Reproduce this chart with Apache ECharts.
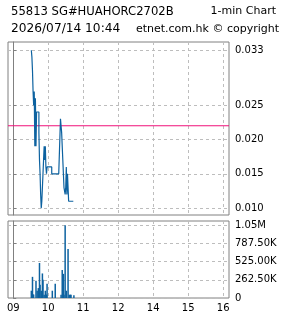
<!DOCTYPE html>
<html>
<head>
<meta charset="utf-8">
<script src="https://cdn.jsdelivr.net/npm/echarts@6/dist/echarts.min.js"></script>
<style>
  html, body { margin: 0; padding: 0; background: #fff; }
  #chart { width: 285px; height: 318px; }
</style>
</head>
<body>
<div id="chart"></div>
<script>
// x values are trading minutes counted from 09:00 (lunch hour removed)
const hourTicks = [0, 60, 120, 180, 240, 300, 360]
const hourLabels = ['09', '10', '11', '12', '14', '15', '16']
const xMin = -9
const xMax = 370

const priceTicks = [0.010, 0.015, 0.020, 0.025, 0.033]
const volTicks = [0, 262500, 525000, 787500, 1050000]
const prevClose = 0.022

// one price per minute, first one at 09:31
const priceStart = 31
const prices = [
  0.033, 0.032, 0.030, 0.027, 0.025, 0.027, 0.019, 0.026, 0.019, 0.024,
  0.024, 0.024, 0.024, 0.021, 0.017, 0.015, 0.012, 0.010, 0.011, 0.013,
  0.013, 0.017, 0.019, 0.017, 0.019, 0.016, 0.015, 0.016, 0.016, 0.016,
  0.016, 0.016, 0.016, 0.016, 0.016, 0.015, 0.015, 0.015, 0.015, 0.015,
  0.015, 0.015, 0.015, 0.015, 0.015, 0.015, 0.015, 0.015, 0.015, 0.015,
  0.023, 0.022, 0.021, 0.021, 0.017, 0.015, 0.013, 0.013, 0.012, 0.013,
  0.016, 0.012, 0.015, 0.015, 0.011, 0.011, 0.011, 0.011, 0.011, 0.011,
  0.011, 0.011, 0.011, 0.011
]

// volume bars: minute and shares
const volMinutes = [31, 33, 34, 35, 39, 41, 43, 45, 46, 48, 50, 51, 53, 55, 57, 58,
  67, 72, 82, 84, 86, 87, 89, 91, 94, 96, 98, 99, 104]
const volValues = [105000, 305000, 50000, 50000, 250000, 105000, 143000, 505000, 190000,
  105000, 354000, 263000, 48000, 105000, 50000, 205000, 105000, 205000, 48000, 405000,
  348000, 48000, 1050000, 105000, 705000, 48000, 48000, 48000, 40000]

const lineColor = '#0d62a0'
const gridColor = '#bdbdbd'
const frameColor = '#808080'
const pinkColor = '#f0107a'
const font = 'DejaVu Sans'

const chart = echarts.init(document.getElementById('chart'))

const priceData = prices.map((p, i) => [priceStart + i, p])
const volData = volMinutes.map((m, i) => [m, volValues[i]])

function volLabel (v) {
  if (v === 0) return '0'
  if (v >= 1e6) return (v / 1e6).toFixed(2) + 'M'
  return (v / 1e3).toFixed(2) + 'K'
}

function titleStyle (size) {
  return { fontSize: size, fontWeight: 'normal', color: '#000', fontFamily: font }
}

const xCommon = {
  type: 'value',
  min: xMin,
  max: xMax,
  axisLine: { show: false },
  axisTick: { show: false, customValues: hourTicks },
  splitLine: { show: true, lineStyle: { color: gridColor, type: [3, 3], width: 1 } }
}

chart.setOption({
  animation: false,
  title: [
    { text: '55813 SG#HUAHORC2702B', left: 11, top: 6, padding: 0, textStyle: titleStyle(11.6) },
    { text: '1-min Chart', right: 9, top: 6, padding: 0, textStyle: titleStyle(11) },
    { text: '2026/07/14 10:44', left: 11, top: 23, padding: 0, textStyle: titleStyle(12.2) },
    { text: 'etnet.com.hk © copyright', right: 6, top: 24, padding: 0, textStyle: titleStyle(11) }
  ],
  grid: [
    { left: 8, top: 42, width: 221, height: 173, show: true, borderColor: frameColor, borderWidth: 1 },
    { left: 8, top: 221, width: 221, height: 77, show: true, borderColor: frameColor, borderWidth: 1 }
  ],
  xAxis: [
    Object.assign({ gridIndex: 0, axisLabel: { show: false, customValues: hourTicks } }, xCommon),
    Object.assign({
      gridIndex: 1,
      axisLabel: {
        show: true,
        customValues: hourTicks,
        margin: 5,
        fontSize: 10,
        fontFamily: font,
        color: '#000',
        formatter: v => hourLabels[hourTicks.indexOf(v)]
      }
    }, xCommon)
  ],
  yAxis: [
    {
      type: 'value',
      gridIndex: 0,
      position: 'right',
      min: 0.009,
      max: 0.0342,
      axisLine: { show: true, lineStyle: { color: frameColor } },
      axisTick: { show: true, length: 3, customValues: priceTicks, lineStyle: { color: frameColor } },
      axisLabel: {
        customValues: priceTicks,
        margin: 6,
        fontSize: 10,
        fontFamily: font,
        color: '#000',
        formatter: v => v.toFixed(3)
      },
      splitLine: { show: true, lineStyle: { color: gridColor, type: [3, 3] } }
    },
    {
      type: 'value',
      gridIndex: 1,
      position: 'right',
      min: 0,
      max: 1110000,
      axisLine: { show: true, lineStyle: { color: frameColor } },
      axisTick: { show: true, length: 3, customValues: volTicks, lineStyle: { color: frameColor } },
      axisLabel: {
        customValues: volTicks,
        margin: 6,
        fontSize: 10,
        fontFamily: font,
        color: '#000',
        formatter: volLabel
      },
      splitLine: { show: true, lineStyle: { color: gridColor, type: [3, 3] } }
    }
  ],
  series: [
    {
      // previous close, spanning the whole time axis
      type: 'line',
      xAxisIndex: 0,
      yAxisIndex: 0,
      data: [[xMin, prevClose], [xMax, prevClose]],
      showSymbol: false,
      silent: true,
      lineStyle: { color: pinkColor, width: 1 }
    },
    {
      type: 'line',
      xAxisIndex: 0,
      yAxisIndex: 0,
      data: priceData,
      step: 'end',
      showSymbol: false,
      lineStyle: { color: lineColor, width: 1.2 }
    },
    {
      type: 'bar',
      xAxisIndex: 1,
      yAxisIndex: 1,
      data: volData,
      barWidth: 1.5,
      itemStyle: { color: lineColor }
    }
  ]
})
</script>
</body>
</html>
